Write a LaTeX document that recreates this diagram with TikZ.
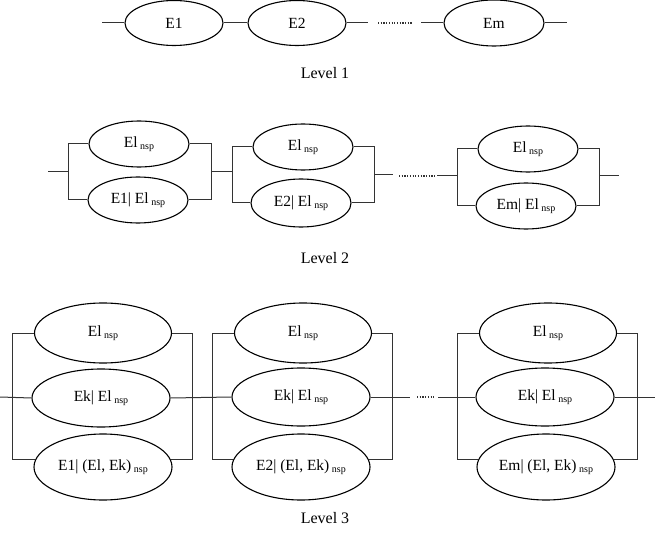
\documentclass[tikz,border=0pt]{standalone}
\usepackage{fontspec}
\setmainfont{Liberation Serif}
\usetikzlibrary{shapes.geometric}
\tikzset{
  ell/.style={draw=black, ellipse, line width=1.1pt, inner sep=0pt,
    font=\fontsize{15.5}{16}\selectfont},
  ellA/.style={ell, minimum width=98pt, minimum height=45pt},
  ellB/.style={ell, minimum width=100pt, minimum height=46pt},
  ellC/.style={ell, minimum width=137pt, minimum height=60pt},
  ellD/.style={ell, minimum width=138pt, minimum height=66pt},
  wire/.style={line width=1pt, draw=black!80},
  dotline/.style={line width=1.2pt, draw=black!80, dash pattern=on 1.2pt off 1.5pt},
  lab/.style={font=\fontsize{16}{18}\selectfont, inner sep=0pt}
}
\newcommand{\nspx}{\,{\fontsize{10}{10}\selectfont\raisebox{-2.5pt}{nsp}}}
\begin{document}
\begin{tikzpicture}[x=1pt,y=-1pt]
\useasboundingbox (0,0) rectangle (655,537);

% ---------------- Level 1 ----------------
\node[ellA] (a1) at (174,23) {E1};
\node[ellA] (a2) at (297,23) {E2};
\node[ellA, minimum width=100pt, minimum height=46pt] (a3) at (494,23) {Em};
\coordinate (a0) at (102,23);
\coordinate (a2r) at (368,23);
\coordinate (ad1) at (378,23);
\coordinate (ad2) at (413,23);
\coordinate (a3l) at (421,23);
\coordinate (a4) at (567,23);
\draw[wire] (a0) -- (a1.west);
\draw[wire] (a1.east) -- (a2.west);
\draw[wire] (a2.east) -- (a2r);
\draw[dotline] (ad1) -- (ad2);
\draw[wire] (a3l) -- (a3.west);
\draw[wire] (a3.east) -- (a4);
\node[lab] (lev1) at (325,73) {Level 1};

% ---------------- Level 2 ----------------
\node[ellB] (t1) at (139,144) {El\nspx};
\node[ellB] (b1) at (138,200) {E1| El\nspx};
\node[ellB] (t2) at (303,147) {El\nspx};
\node[ellB, minimum height=48pt] (b2) at (301,203) {E2| El\nspx};
\node[ellB] (t3) at (528,149) {El\nspx};
\node[ellB] (b3) at (526,206) {Em| El\nspx};

\coordinate (s2) at (48,172);
\coordinate (L1) at (68,172);
\coordinate (R1) at (211,172);
\coordinate (L2) at (232,175);
\coordinate (R2) at (374,175);
\coordinate (c2) at (393,175);
\coordinate (d1) at (399,176);
\coordinate (d2) at (435,176);
\coordinate (c3) at (437,176);
\coordinate (L3) at (457,176);
\coordinate (R3) at (599,176);
\coordinate (e2) at (619,176);

\draw[wire] (t1.west) -- (t1.west -| L1) -- (b1.west -| L1) -- (b1.west);
\draw[wire] (t1.east) -- (t1.east -| R1) -- (b1.east -| R1) -- (b1.east);
\draw[wire] (t2.west) -- (t2.west -| L2) -- (b2.west -| L2) -- (b2.west);
\draw[wire] (t2.east) -- (t2.east -| R2) -- (b2.east -| R2) -- (b2.east);
\draw[wire] (t3.west) -- (t3.west -| L3) -- (b3.west -| L3) -- (b3.west);
\draw[wire] (t3.east) -- (t3.east -| R3) -- (b3.east -| R3) -- (b3.east);
\draw[wire] (s2) -- (L1);
\draw[wire] (R1) -- (R1 -| L2);
\draw[wire] (R2) -- (c2);
\draw[dotline] (d1) -- (d2);
\draw[wire] (c3) -- (L3);
\draw[wire] (R3) -- (e2);
\node[lab] (lev2) at (325,258) {Level 2};

% ---------------- Level 3 ----------------
\node[ellC] (u1) at (103,333) {El\nspx};
\node[ellC, minimum width=138pt, minimum height=58pt] (m1) at (101,398) {Ek| El\nspx};
\node[ellD] (v1) at (103,467) {E1| (El, Ek)\nspx};
\node[ellC] (u2) at (303,333) {El\nspx};
\node[ellC, minimum width=138pt, minimum height=58pt] (m2) at (301,397) {Ek| El\nspx};
\node[ellD] (v2) at (301,467) {E2| (El, Ek)\nspx};
\node[ellC] (u3) at (548,333) {El\nspx};
\node[ellC, minimum width=138pt, minimum height=58pt] (m3) at (545,397) {Ek| El\nspx};
\node[ellD] (v3) at (546,467) {Em| (El, Ek)\nspx};

\coordinate (s3) at (0,397);
\coordinate (P1) at (12,397);
\coordinate (Q1) at (192,397);
\coordinate (P2) at (212,397);
\coordinate (Q2) at (392,397);
\coordinate (f1) at (410,397);
\coordinate (g1) at (417,397);
\coordinate (g2) at (434,397);
\coordinate (f2) at (438,397);
\coordinate (P3) at (457,397);
\coordinate (Q3) at (637,397);
\coordinate (e3) at (655,397);

\draw[wire] (u1.west) -- (u1.west -| P1) -- (v1.174 -| P1) -- (v1.174);
\draw[wire] (u1.east) -- (u1.east -| Q1) -- (v1.6 -| Q1) -- (v1.6);
\draw[wire] (u2.west) -- (u2.west -| P2) -- (v2.174 -| P2) -- (v2.174);
\draw[wire] (u2.east) -- (u2.east -| Q2) -- (v2.6 -| Q2) -- (v2.6);
\draw[wire] (u3.west) -- (u3.west -| P3) -- (v3.174 -| P3) -- (v3.174);
\draw[wire] (u3.east) -- (u3.east -| Q3) -- (v3.6 -| Q3) -- (v3.6);
\draw[wire] (s3) -- (m1.west);
\draw[wire] (m1.east) -- (m2.west);
\draw[wire] (m2.east) -- (f1);
\draw[dotline] (g1) -- (g2);
\draw[wire] (f2) -- (m3.west);
\draw[wire] (m3.east) -- (e3);
\node[lab] (lev3) at (325,518) {Level 3};
\end{tikzpicture}
\end{document}
